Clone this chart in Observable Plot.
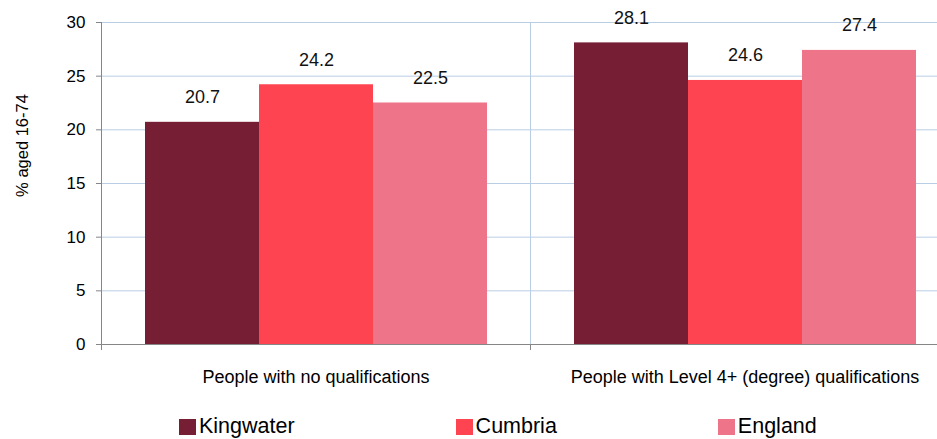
<!DOCTYPE html>
<html>
<head>
<meta charset="utf-8">
<script src="https://cdn.jsdelivr.net/npm/d3@7"></script>
<script src="https://cdn.jsdelivr.net/npm/@observablehq/plot@0.6"></script>
<style>
  html, body { margin: 0; padding: 0; background: #fff; overflow: hidden; }
  #chart { width: 937px; }
  #legend { position: relative; height: 44px; display: flex; gap: 161px; padding-left: 179px;
            font-family: "Liberation Sans", Arial, sans-serif; font-size: 21.5px; color: #000; }
  .item { flex: none; display: flex; align-items: flex-start; margin-top: 21px; line-height: 21px; }
  .sw { width: 17px; height: 16px; margin-top: 3px; margin-right: 3px; flex: none; }
</style>
</head>
<body>
<div id="chart"></div>
<script>
const categories = ["People with no qualifications", "People with Level 4+ (degree) qualifications"];
const seriesNames = ["Kingwater", "Cumbria", "England"];
const noQualifications = [20.7, 24.2, 22.5];
const level4Qualifications = [28.1, 24.6, 27.4];
const seriesColors = ["#761E34", "#FE4450", "#EE7589"];
const yTicks = [0, 5, 10, 15, 20, 25, 30];
const yLabel = "% aged 16-74";

const data = [];
[noQualifications, level4Qualifications].forEach((vals, i) =>
  vals.forEach((v, j) => data.push({category: categories[i], series: seriesNames[j], value: v})));

const chart = Plot.plot({
  width: 937,
  height: 395,
  marginLeft: 101,
  marginRight: -22,
  marginTop: 22,
  marginBottom: 51,
  style: {fontFamily: "'Liberation Sans', Arial, sans-serif", fontSize: "16px", color: "#000", background: "white"},
  fx: {domain: categories, padding: 0},
  x: {domain: seriesNames, paddingInner: 0, paddingOuter: 0.375, axis: null},
  y: {domain: [0, 30]},
  color: {domain: seriesNames, range: seriesColors},
  marks: [
    Plot.gridY(yTicks, {stroke: "#B9CDE5", strokeOpacity: 1}),
    Plot.frame({anchor: "left", stroke: "#868686"}),
    Plot.frame({anchor: "right", stroke: "#B9CDE5"}),
    Plot.frame({anchor: "left", stroke: "#868686", insetTop: 322, insetBottom: -5}),
    Plot.barY(data, {fx: "category", x: "series", y: "value", fill: "series"}),
    Plot.ruleY([0], {stroke: "#868686"}),
    Plot.text(data, {fx: "category", x: "series", y: "value", text: d => d.value.toFixed(1), dy: -25, fontSize: 18, fill: "#111"}),
    Plot.axisY(yTicks, {tickSize: 5, tickPadding: 11, stroke: "#868686", fontSize: 17, label: null}),
    Plot.text([yLabel], {frameAnchor: "left", facetAnchor: "left", textAnchor: "middle", lineAnchor: "middle", rotate: -90, dx: -79, dy: -38, fontSize: 16.5, fill: "#000"}),
    Plot.axisFx({anchor: "bottom", tickSize: 0, tickPadding: 26, fontSize: 18, label: null})
  ]
});
document.getElementById("chart").appendChild(chart);

const legend = document.createElement("div");
legend.id = "legend";
seriesNames.forEach((name, i) => {
  const item = document.createElement("div");
  item.className = "item";
  const sw = document.createElement("span");
  sw.className = "sw";
  sw.style.background = seriesColors[i];
  const label = document.createElement("span");
  label.textContent = name;
  item.appendChild(sw);
  item.appendChild(label);
  legend.appendChild(item);
});
document.body.appendChild(legend);
</script>
</body>
</html>
